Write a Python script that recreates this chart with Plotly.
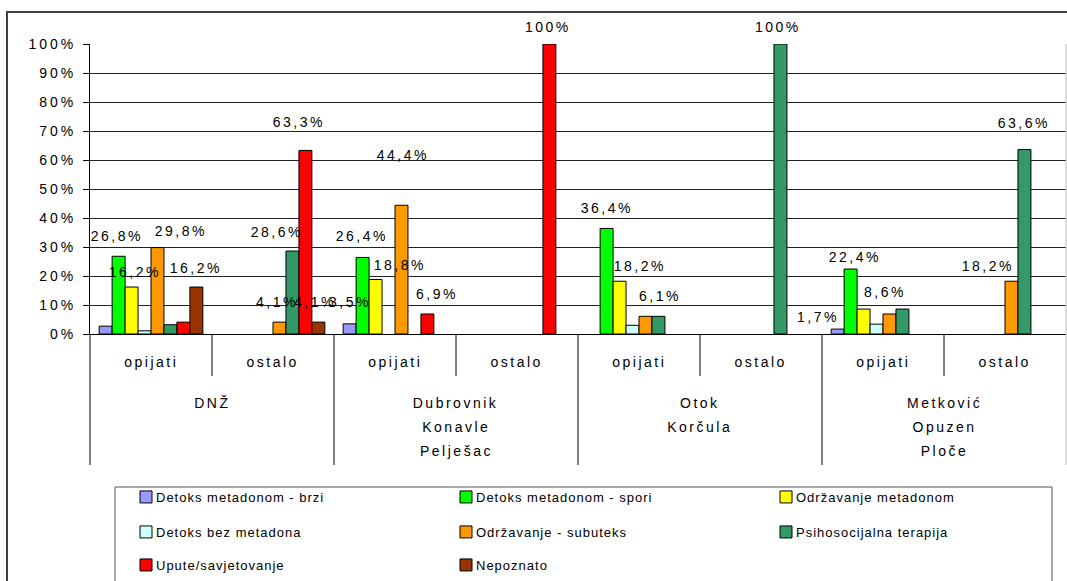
import plotly.graph_objects as go

# ---------------- data ----------------
groups = [["DNŽ"], ["Dubrovnik", "Konavle", "Pelješac"], ["Otok", "Korčula"], ["Metković", "Opuzen", "Ploče"]]
subcats = ["opijati", "ostalo"]
y_ticks = [0, 10, 20, 30, 40, 50, 60, 70, 80, 90, 100]

series_names = ["Detoks metadonom - brzi", "Detoks metadonom - spori", "Održavanje metadonom",
                "Detoks bez metadona", "Održavanje - subuteks", "Psihosocijalna terapija",
                "Upute/savjetovanje", "Nepoznato"]

# categories: DNŽ opijati, DNŽ ostalo, Dubrovnik opijati, Dubrovnik ostalo,
#             Otok opijati, Otok ostalo, Metković opijati, Metković ostalo
brzi      = [2.7, 0, 3.5, 0, 0, 0, 1.7, 0]
spori     = [26.8, 0, 26.4, 0, 36.4, 0, 22.4, 0]
odrz_met  = [16.2, 0, 18.8, 0, 18.2, 0, 8.6, 0]
bez_met   = [1.1, 0, 0, 0, 3.0, 0, 3.4, 0]
subuteks  = [29.8, 4.1, 44.4, 0, 6.1, 0, 6.9, 18.2]
psiho     = [3.2, 28.6, 0, 0, 6.1, 100, 8.6, 63.6]
upute     = [4.1, 63.3, 6.9, 100, 0, 0, 0, 0]
nepoznato = [16.2, 4.1, 0, 0, 0, 0, 0, 0]
values = [brzi, spori, odrz_met, bez_met, subuteks, psiho, upute, nepoznato]

# data labels shown in the chart (empty = no label)
lbl_brzi      = ["", "", "3,5%", "", "", "", "1,7%", ""]
lbl_spori     = ["26,8%", "", "26,4%", "", "36,4%", "", "22,4%", ""]
lbl_odrz_met  = ["16,2%", "", "18,8%", "", "18,2%", "", "8,6%", ""]
lbl_bez_met   = ["", "", "", "", "", "", "", ""]
lbl_subuteks  = ["29,8%", "4,1%", "44,4%", "", "", "", "", "18,2%"]
lbl_psiho     = ["", "28,6%", "", "", "6,1%", "100%", "", "63,6%"]
lbl_upute     = ["", "63,3%", "6,9%", "100%", "", "", "", ""]
lbl_nepoznato = ["16,2%", "4,1%", "", "", "", "", "", ""]
labels = [lbl_brzi, lbl_spori, lbl_odrz_met, lbl_bez_met, lbl_subuteks, lbl_psiho, lbl_upute, lbl_nepoznato]

# ---------------- styles ----------------
colors = ["#9999FF", "#00FF00", "#FFFF00", "#CCFFFF", "#FF9900", "#339966", "#FF0000", "#993300"]
FONT = "Liberation Sans, Arial, sans-serif"

# label offsets (px) relative to the bar centre / bar top: (series, category) -> (dx, dy)
label_offsets = {
    (1, 0): (-2, 20), (2, 0): (3, 15), (4, 0): (24, 17), (7, 0): (0, 19),
    (4, 1): (-2, 20), (5, 1): (-15, 19), (6, 1): (-6, 28), (7, 1): (-3, 20),
    (0, 2): (0, 22), (1, 2): (-1, 21), (2, 2): (24, 14), (4, 2): (2, 50), (6, 2): (10, 20),
    (6, 3): (-1, 17),
    (1, 4): (0, 20), (2, 4): (20, 15), (5, 4): (2, 20),
    (5, 5): (-2, 17),
    (0, 6): (-20, 12), (1, 6): (4, 12), (2, 6): (21, 17),
    (4, 7): (-23, 15), (5, 7): (0, 27),
}

W, H = 1067, 581
L, R, T, B = 90, 1066, 44, 334   # plot area in px
PW, PH = R - L, B - T
BARGAP = 0.15
NS = len(series_names)
NC = len(groups) * len(subcats)


def px_x(px):
    return (px - L) / PW


def px_y(py):
    return (B - py) / PH


def cat_to_paper(c):
    return (c + 0.5) / NC


def bar_center(cat, s):
    w = (1 - BARGAP) / NS
    return cat - (1 - BARGAP) / 2 + (s + 0.5) * w


fig = go.Figure()
legend_keys = ["legend", "legend2", "legend3"]
for s in range(NS):
    fig.add_trace(go.Bar(
        x=list(range(NC)), y=[v if v else None for v in values[s]], name=series_names[s],
        marker=dict(color=colors[s], line=dict(color="black", width=1)),
        legend=legend_keys[s // 3],
    ))

annotations = []
for s in range(NS):
    for c in range(NC):
        t = labels[s][c]
        if not t:
            continue
        dx, dy = label_offsets.get((s, c), (0, 18))
        annotations.append(dict(
            x=bar_center(c, s), y=values[s][c], xref="x", yref="y", text=t,
            showarrow=False, xanchor="center", yanchor="middle", xshift=dx, yshift=dy,
            font=dict(family=FONT, size=14, color="black")))

# sub-category labels
for g in range(len(groups)):
    for k, sc in enumerate(subcats):
        c = g * 2 + k
        annotations.append(dict(x=c, y=px_y(362), xref="x", yref="paper", text=sc,
                                showarrow=False, xanchor="center", yanchor="middle",
                                font=dict(family=FONT, size=14, color="black")))
# group labels (line by line)
for g, lines in enumerate(groups):
    for i, ln in enumerate(lines):
        annotations.append(dict(x=g * 2 + 0.5, y=px_y(403 + 24 * i), xref="x", yref="paper", text=ln,
                                showarrow=False, xanchor="center", yanchor="middle",
                                font=dict(family=FONT, size=14, color="black")))

shapes = []
# outer chart frame
shapes.append(dict(type="rect", xref="paper", yref="paper", x0=px_x(7), x1=px_x(1075),
                   y0=px_y(600), y1=px_y(12), line=dict(color="#404040", width=2), layer="above"))
# legend box
shapes.append(dict(type="rect", xref="paper", yref="paper", x0=px_x(115), x1=px_x(1052),
                   y0=px_y(600), y1=px_y(487), line=dict(color="#555555", width=1), layer="above"))
# axis extension lines
shapes.append(dict(type="line", xref="paper", yref="paper", x0=0, x1=0, y0=px_y(465), y1=0,
                   line=dict(color="black", width=1)))
shapes.append(dict(type="line", xref="paper", yref="paper", x0=1, x1=1, y0=px_y(465), y1=1,
                   line=dict(color="#BBBBBB", width=1)))
# group dividers
for g in range(1, len(groups)):
    xp = cat_to_paper(g * 2 - 0.5)
    shapes.append(dict(type="line", xref="paper", yref="paper", x0=xp, x1=xp, y0=px_y(465), y1=0,
                       line=dict(color="black", width=1)))
# sub-category dividers
for g in range(len(groups)):
    xp = cat_to_paper(g * 2 + 0.5)
    shapes.append(dict(type="line", xref="paper", yref="paper", x0=xp, x1=xp, y0=px_y(376), y1=0,
                       line=dict(color="black", width=1)))

row_y = [497, 532, 565]
layout_legends = {}
for r, key in enumerate(legend_keys):
    layout_legends[key] = dict(orientation="h", x=px_x(126), xanchor="left", y=px_y(row_y[r]),
                               yanchor="middle", entrywidth=275, entrywidthmode="pixels",
                               bgcolor="rgba(0,0,0,0)", borderwidth=0, traceorder="normal",
                               font=dict(family=FONT, size=13, color="black"))

fig.update_layout(
    width=W, height=H,
    margin=dict(l=L, r=W - R, t=T, b=H - B, autoexpand=False),
    paper_bgcolor="white", plot_bgcolor="white",
    barmode="group", bargap=BARGAP, bargroupgap=0,
    showlegend=True,
    xaxis=dict(range=[-0.5, NC - 0.5], showticklabels=False, ticks="", showgrid=False,
               zeroline=False, showline=True, linecolor="black", linewidth=1, fixedrange=True),
    yaxis=dict(range=[0, 100], tickvals=y_ticks, ticktext=[f"{v}%" for v in y_ticks],
               showgrid=True, gridcolor="#222222", gridwidth=1, zeroline=False,
               showline=True, linecolor="black", linewidth=1,
               ticks="outside", ticklen=6, tickcolor="black", ticklabelstandoff=4,
               tickfont=dict(family=FONT, size=14, color="black")),
    annotations=annotations, shapes=shapes,
    **layout_legends,
)

post = """
document.body.style.margin = '0';
document.body.style.overflow = 'hidden';
var st = document.createElement('style');
st.textContent = '.ytick text {letter-spacing: 3px;} .annotation-text {letter-spacing: 2.5px;} ' +
                 'text[class^="legend"] {letter-spacing: 1px; transform: translateX(-10px);}';
document.head.appendChild(st);
"""
fig.write_html("out.html", post_script=post, config={"displayModeBar": False})
